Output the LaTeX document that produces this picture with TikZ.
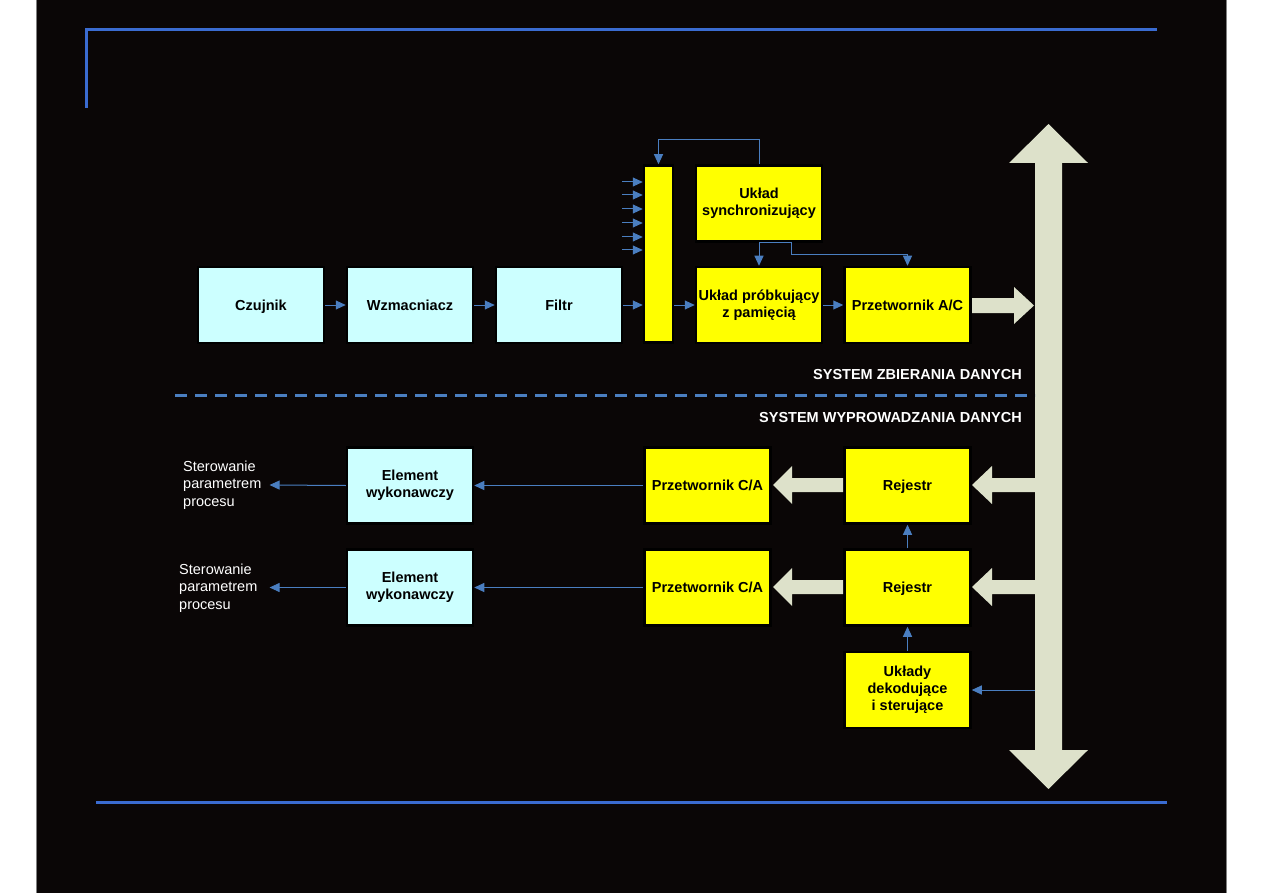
\documentclass[tikz,border=0pt]{standalone}
\usepackage{fontspec}
\setmainfont{Liberation Sans}
\usetikzlibrary{arrows.meta,calc}
\definecolor{bg}{RGB}{10,6,6}
\definecolor{cyanbox}{RGB}{204,255,255}
\definecolor{yelbox}{RGB}{255,255,0}
\definecolor{busc}{RGB}{221,225,202}
\definecolor{framec}{RGB}{58,107,208}
\definecolor{connc}{RGB}{74,126,192}
\begin{document}
\begin{tikzpicture}[x=1pt,y=-1pt,
  box/.style={draw=black,line width=2.5pt,minimum width=126pt,minimum height=76pt,inner sep=0pt,align=center,font=\fontsize{14.5}{17}\selectfont\bfseries},
  cbox/.style={box,fill=cyanbox},
  ybox/.style={box,fill=yelbox},
  oneline/.style={text height=10.5pt,text depth=0pt},
  link/.style={draw=connc,line width=1pt,-{Triangle[length=10pt,width=9pt]}},
  lbl/.style={text=white,inner sep=0pt,align=left,font=\fontsize{14.5}{17.5}\selectfont},
  hdr/.style={text=white,inner sep=0pt,font=\fontsize{14.5}{17}\selectfont\bfseries},
  fat/.style={fill=busc}
]
\useasboundingbox (0,0) rectangle (1263,893);
\fill[white] (0,0) rectangle (1263,893);
\fill[bg] (37,0) rectangle (1226,893);
\draw[gray,line width=0.8pt] (36.6,0) -- (36.6,893);
\draw[gray,line width=0.8pt] (1226.4,0) -- (1226.4,893);
% frame lines
\draw[framec,line width=3pt] (86,108) -- (86,29.5) -- (1157,29.5);
\draw[framec,line width=2.5pt] (96,802.7) -- (1167,802.7);
% bus
\fill[busc] (1035,163) -- (1009,163) -- (1048.5,124) -- (1088,163) -- (1062,163) -- (1062,750) -- (1088,750) -- (1048.5,789) -- (1009,750) -- (1035,750) -- cycle;
\coordinate (busL) at (1035,0);
% top row
\node[cbox,oneline] (czu) at (261,305) {Czujnik};
\node[cbox,oneline] (wzm) at (410,305) {Wzmacniacz};
\node[cbox,oneline] (fil) at (559,305) {Filtr};
\node[ybox,minimum width=29pt,minimum height=177pt] (mux) at (658.5,254) {};
\node[ybox] (syn) at (759,203.5) {Układ\\synchronizujący};
\node[ybox] (pro) at (759,305) {Układ próbkujący\\z pamięcią};
\node[ybox,oneline] (ac) at (907.5,305) {Przetwornik A/C};
% bottom rows
\node[cbox] (ew1) at (410,485.5) {Element\\wykonawczy};
\node[cbox] (ew2) at (410,587.5) {Element\\wykonawczy};
\node[ybox,oneline] (ca1) at (707.5,485.5) {Przetwornik C/A};
\node[ybox,oneline] (ca2) at (707.5,587.5) {Przetwornik C/A};
\node[ybox,oneline] (r1) at (907.5,485.5) {Rejestr};
\node[ybox,oneline] (r2) at (907.5,587.5) {Rejestr};
\node[ybox] (dek) at (907.5,690) {Układy\\dekodujące\\i sterujące};
% labels
\node[lbl,anchor=west] (t1) at (183,485) {Sterowanie\\parametrem\\procesu};
\node[lbl,anchor=west] (t2) at (179,588) {Sterowanie\\parametrem\\procesu};
\node[hdr,anchor=east] (s1) at (1022,375) {SYSTEM ZBIERANIA DANYCH};
\node[hdr,anchor=east] (s2) at (1022,418) {SYSTEM WYPROWADZANIA DANYCH};
\coordinate (dl) at (175,395);
\draw[connc,line width=3pt,dash pattern=on 12pt off 8pt] (dl) -- (dl -| busL);
% thin connectors top
\draw[link] (czu) -- (wzm);
\draw[link] (wzm) -- (fil);
\draw[link] (fil.east) -- (fil.east -| mux.west);
\draw[link] (mux.east |- pro) -- (pro);
\draw[link] (pro) -- (ac);
\foreach \yy [count=\i] in {182,195,209,223,237,250} {
  \coordinate (in\i) at (622,\yy);
  \draw[link] (in\i) -- (in\i -| mux.west);
}
\draw[link] (syn.north) -- ++(0,-25) -| (mux.north);
\draw[link] (syn.south) -- (pro.north);
\draw[link] (syn.south) -- ++(32,0) -- ++(0,12) -| (ac.north);
% fat arrows
\fill[fat] (972,298) -- (1014,298) -- (1014,287) -- (1034,305.5) -- (1014,324) -- (1014,313) -- (972,313) -- cycle;
\foreach \dy in {0,102} {
  \fill[fat] (1036,478+\dy) -- (992,478+\dy) -- (992,466+\dy) -- (972,485+\dy) -- (992,504+\dy) -- (992,492+\dy) -- (1036,492+\dy) -- cycle;
  \fill[fat] (843,478+\dy) -- (792,478+\dy) -- (792,466+\dy) -- (773,485+\dy) -- (792,504+\dy) -- (792,492+\dy) -- (843,492+\dy) -- cycle;
}
% thin connectors bottom
\draw[link] (ca1) -- (ew1);
\draw[link] (ca2) -- (ew2);
\draw[link] (ew1.west) -- ($(t1.east)+(8,0)$);
\draw[link] (ew2.west) -- ($(t2.east |- ew2.west)+(12,0)$);
\draw[link] (r2) -- (r1);
\draw[link] (dek) -- (r2);
\draw[link] (busL |- dek) -- (dek);
\end{tikzpicture}
\end{document}
